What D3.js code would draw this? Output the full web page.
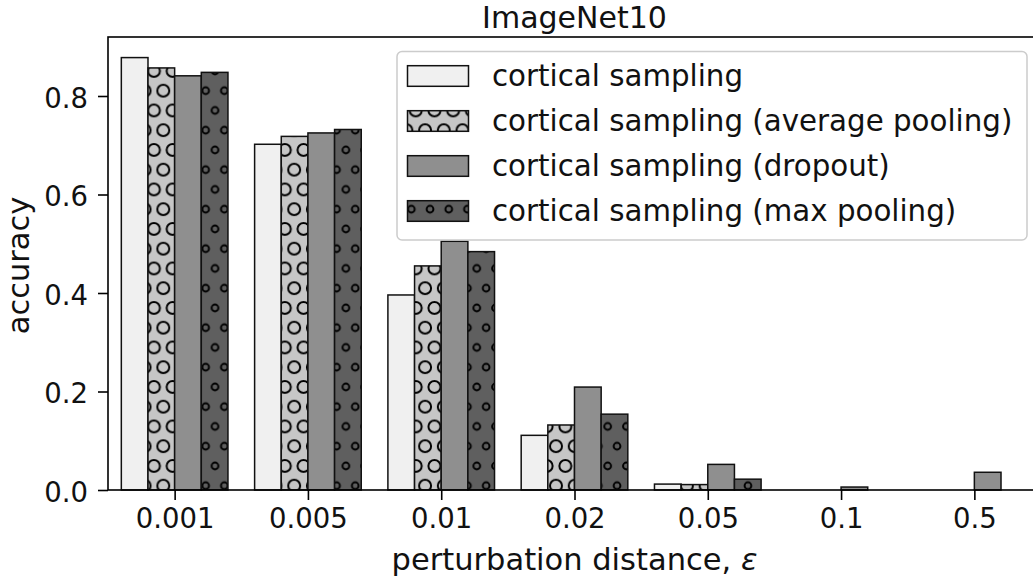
<!DOCTYPE html>
<html>
<head>
<meta charset="utf-8">
<script src="https://cdn.jsdelivr.net/npm/d3@7"></script>
<style>
  html, body { margin: 0; padding: 0; background: #fff; }
  svg { display: block; font-family: "DejaVu Sans", sans-serif; }
</style>
</head>
<body>
<svg id="chart" width="1033" height="580"></svg>
<script>
// ---- data ----
const categories = ["0.001", "0.005", "0.01", "0.02", "0.05", "0.1", "0.5"];
const seriesNames = [
  "cortical sampling",
  "cortical sampling (average pooling)",
  "cortical sampling (dropout)",
  "cortical sampling (max pooling)"
];
const corticalSampling = [0.878, 0.702, 0.396, 0.111, 0.012, 0, 0];
const averagePooling   = [0.857, 0.718, 0.455, 0.132, 0.011, 0, 0];
const dropout          = [0.841, 0.725, 0.505, 0.209, 0.052, 0.006, 0.036];
const maxPooling       = [0.848, 0.732, 0.484, 0.154, 0.022, 0, 0];
const yTicks = [0.0, 0.2, 0.4, 0.6, 0.8];

const seriesValues = [corticalSampling, averagePooling, dropout, maxPooling];
const fills = ["#f0f0f0", "#c6c6c6", "#8f8f8f", "#5f5f5f"];
const hatches = [null, "O", null, "o"];

// ---- layout ----
const svg = d3.select("#chart");
const plotLeft = 108, plotTop = 37, plotBottom = 490;
const x = d3.scaleLinear().domain([-0.5, categories.length - 0.5]).range([plotLeft, 1041]);
const y = d3.scaleLinear().domain([0, 0.9198]).range([plotBottom, plotTop]);
const barW = 0.2;

// ---- hatch patterns ----
const defs = svg.append("defs");
const W = 18.7, H = 39.5;
function makePattern(id, bg, r, sw, ox, oy) {
  const p = defs.append("pattern")
    .attr("id", id)
    .attr("patternUnits", "userSpaceOnUse")
    .attr("x", ox).attr("y", oy)
    .attr("width", W).attr("height", H);
  p.append("rect").attr("width", W).attr("height", H).attr("fill", bg);
  const pts = [[0,0],[W,0],[0,H],[W,H],[W/2,H/2]];
  pts.forEach(([cx, cy]) => {
    p.append("circle").attr("cx", cx).attr("cy", cy).attr("r", r)
      .attr("fill", "none").attr("stroke", "#000").attr("stroke-width", sw);
  });
}
makePattern("hatchO", fills[1], 6.0, 2.0, 163.3, 90.7);
makePattern("hatcho", fills[3], 3.4, 1.9, 205.65, 90.7);
function fillFor(i) {
  if (hatches[i] === "O") return "url(#hatchO)";
  if (hatches[i] === "o") return "url(#hatcho)";
  return fills[i];
}

// ---- bars ----
const barsG = svg.append("g");
seriesValues.forEach((vals, si) => {
  barsG.selectAll(null)
    .data(vals.map((v, ci) => ({ v, ci })))
    .enter()
    .filter(d => d.v > 0)
    .append("rect")
    .attr("x", d => x(d.ci + (si - 2) * barW))
    .attr("width", d => x(d.ci + (si - 1) * barW) - x(d.ci + (si - 2) * barW))
    .attr("y", d => y(d.v))
    .attr("height", d => y(0) - y(d.v))
    .attr("fill", fillFor(si))
    .attr("stroke", "#111")
    .attr("stroke-width", 1.5);
});

// ---- axes ----
const xAxis = d3.axisBottom(x)
  .tickValues(d3.range(categories.length))
  .tickFormat(i => categories[i])
  .tickSize(10).tickPadding(8);
const gx = svg.append("g").attr("transform", `translate(0,${plotBottom})`).call(xAxis);
gx.select(".domain").remove();
gx.selectAll(".tick line").attr("stroke", "#000").attr("stroke-width", 1.6);
gx.selectAll(".tick text").attr("font-size", "27.5px").attr("fill", "#111")
  .attr("font-family", "DejaVu Sans");

const yAxis = d3.axisLeft(y).tickValues(yTicks).tickFormat(d3.format(".1f"))
  .tickSize(10).tickPadding(10);
const gy = svg.append("g").attr("transform", `translate(${plotLeft},0)`).call(yAxis);
gy.select(".domain").remove();
gy.selectAll(".tick line").attr("stroke", "#000").attr("stroke-width", 1.6);
gy.selectAll(".tick text").attr("font-size", "27.5px").attr("fill", "#111")
  .attr("font-family", "DejaVu Sans").attr("dy", "0.4em");

// spines
const spines = svg.append("g").attr("fill", "none").attr("stroke", "#000").attr("stroke-width", 1.6);
spines.append("rect")
  .attr("x", plotLeft).attr("y", plotTop)
  .attr("width", x.range()[1] - plotLeft).attr("height", plotBottom - plotTop);

// ---- labels ----
svg.append("text").attr("x", (plotLeft + x.range()[1]) / 2).attr("y", 28)
  .attr("text-anchor", "middle").attr("font-size", "30px").attr("fill", "#111")
  .text("ImageNet10");
const xl = svg.append("text").attr("x", (plotLeft + x.range()[1]) / 2).attr("y", 570)
  .attr("text-anchor", "middle").attr("font-size", "30.5px").attr("fill", "#111");
xl.append("tspan").text("perturbation distance, ");
xl.append("tspan").attr("font-style", "italic").text("ε");
svg.append("text")
  .attr("transform", `translate(28.5,${(plotTop + plotBottom) / 2 + 2}) rotate(-90)`)
  .attr("text-anchor", "middle").attr("font-size", "30.5px").attr("fill", "#111")
  .text("accuracy");

// ---- legend ----
const lg = svg.append("g");
lg.append("rect").attr("x", 397).attr("y", 51.5).attr("width", 630).attr("height", 188.5)
  .attr("rx", 5).attr("fill", "#fff").attr("fill-opacity", 0.8)
  .attr("stroke", "#cccccc").attr("stroke-width", 1.5);
seriesNames.forEach((name, i) => {
  const cy = 76 + i * 45;
  lg.append("rect").attr("x", 407.5).attr("y", cy - 10.3).attr("width", 61).attr("height", 20.6)
    .attr("fill", fillFor(i)).attr("stroke", "#111").attr("stroke-width", 1.5);
  lg.append("text").attr("x", 492).attr("y", cy + 10).attr("font-size", "29.3px")
    .attr("fill", "#111").text(name);
});
</script>
</body>
</html>
